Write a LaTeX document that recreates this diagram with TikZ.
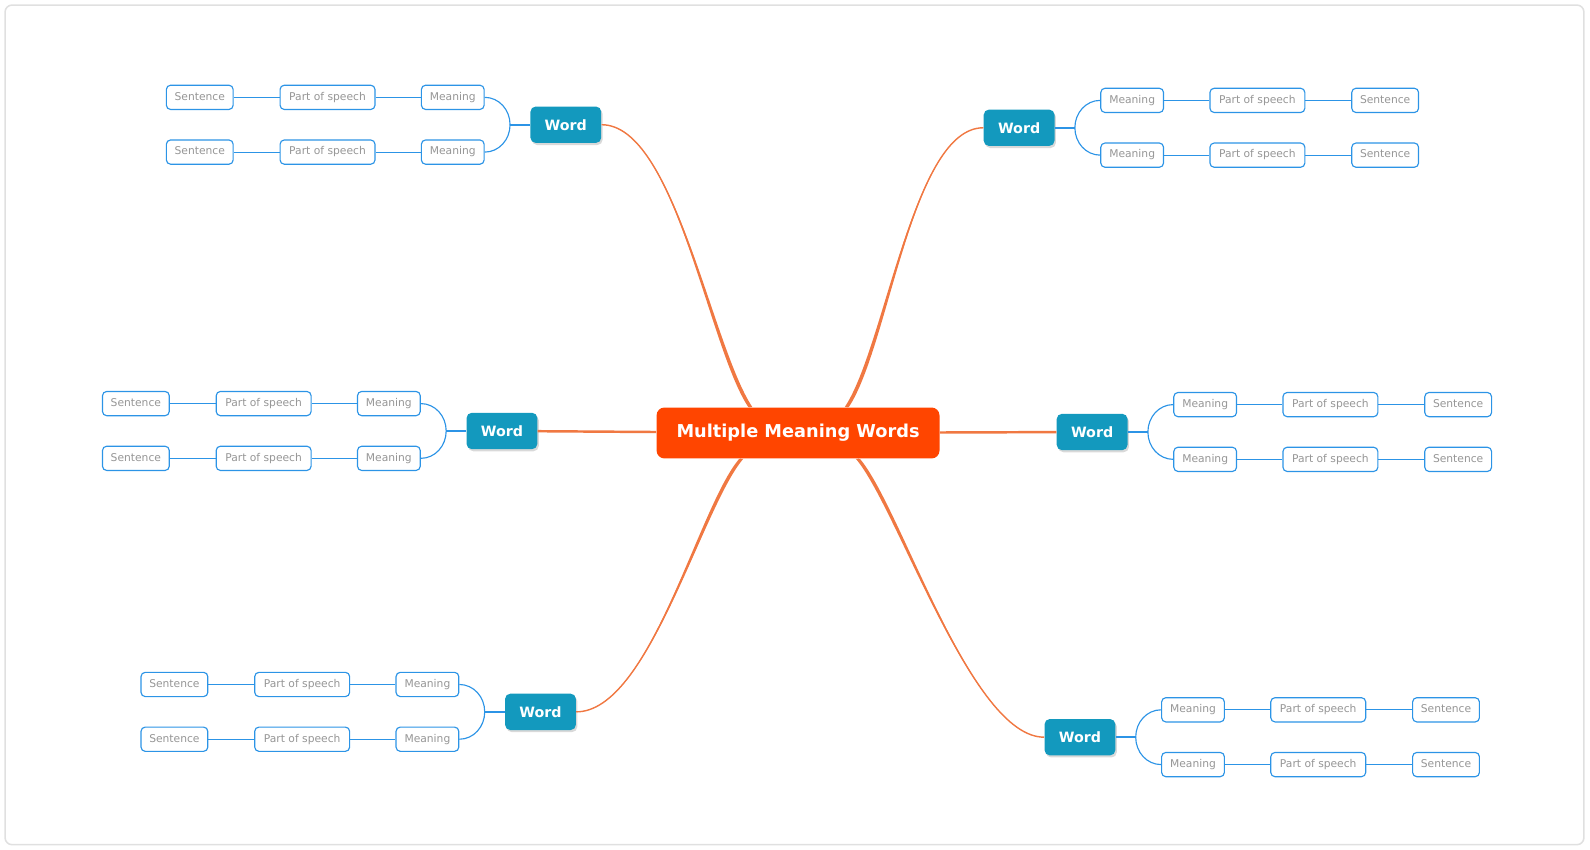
\documentclass[tikz,border=0pt]{standalone}
\usepackage{fontspec}
\setmainfont{DejaVu Sans}
\usepackage{tikz}
\usetikzlibrary{shadows}
\usetikzlibrary{positioning}
\usetikzlibrary{calc}
\definecolor{rootred}{RGB}{255,69,0}
\definecolor{branchorange}{RGB}{240,120,66}
\definecolor{wordblue}{RGB}{19,153,190}
\definecolor{leafblue}{RGB}{44,148,230}
\definecolor{leafgray}{RGB}{150,150,150}
\definecolor{framegray}{RGB}{224,224,224}
\tikzstyle{rootnode}=[rectangle,rounded corners=4.5pt,fill=rootred,text=white,minimum width=161pt,minimum height=29pt,inner sep=0pt,font=\fontsize{10.1}{12}\selectfont\bfseries]
\tikzstyle{wordnode}=[rectangle,rounded corners=3pt,fill=wordblue,text=white,minimum width=40.3pt,minimum height=20.7pt,inner sep=0pt,font=\fontsize{8.1}{10}\selectfont\bfseries,drop shadow={opacity=0.3,shadow xshift=0.8pt,shadow yshift=-1.2pt}]
\tikzstyle{leaf}=[rectangle,rounded corners=2.4pt,draw=leafblue,line width=0.65pt,fill=white,text=leafgray,minimum height=13.8pt,inner sep=0pt,text height=4.4pt,text depth=1.2pt,font=\fontsize{6.1}{7}\selectfont]
\tikzstyle{branch}=[draw,branchorange,line width=0.8pt]
\tikzstyle{twig}=[draw,leafblue,line width=0.65pt]
\tikzstyle{stub}=[draw,leafblue,line width=1.1pt]

\begin{document}
\begin{tikzpicture}[x=0.02028cm,y=-0.02028cm]
    \useasboundingbox (0,0) rectangle (1568,838);
    % frame round the whole map
    \draw[framegray,line width=0.9pt,rounded corners=4pt] (5,5) rectangle (1562,833);

    % the central topic
    \node[rootnode] (root) at (787,427) {Multiple Meaning Words};

    % First we draw the words, then their meanings, parts of speech and sentences
    \foreach \px/\py/\side/\k/\near in {558/123/-1/1/east, 1005/126/1/2/west, 495/425/-1/3/east, 1077/426/1/4/west, 533/702/-1/5/east, 1065/727/1/6/west}{
        \node[wordnode] (W\k) at (\px,\py) {Word};
        \coordinate (J\k) at ({\px+55*\side},\py);
        \path[stub] (W\k) -- (J\k);
        \foreach \row/\dy in {a/-27, b/27}{
            \node[leaf,minimum width=35.7pt] (M\k\row) at ({\px+111.5*\side},{\py+\dy}) {Meaning};
            \node[leaf,minimum width=54pt] (P\k\row) at ({\px+235*\side},{\py+\dy}) {Part of speech};
            \node[leaf,minimum width=38pt] (S\k\row) at ({\px+361*\side},{\py+\dy}) {Sentence};
            \path[twig] (J\k) .. controls +(0,{0.55*\dy}) and +({-14*\side},0) .. (M\k\row.\near);
            \path[twig] (M\k\row) -- (P\k\row) -- (S\k\row);
        }
    }

    % Connect the central topic with the words
    \coordinate (r1) at ($(root.north)+(-47,0)$);
    \coordinate (r2) at ($(root.north)+(48,0)$);
    \coordinate (r5) at ($(root.south)+(-56,0)$);
    \coordinate (r6) at ($(root.south)+(59,0)$);
    \foreach \s/\e/\ax/\ay/\bx in {r1/W1.east/-40/-60/72, r2/W2.west/40/-60/-70, r5/W5.east/-41/48/72, r6/W6.west/41/48/-72}{
        \fill[branchorange] ($(\s)+(-2,0)$) .. controls +(\ax,\ay) and +(\bx,0) .. (\e) .. controls +(\bx,0) and +(\ax,\ay) .. ($(\s)+(2,0)$) -- cycle;
        \path[branch] (\s) .. controls +(\ax,\ay) and +(\bx,0) .. (\e);
    }
    \path[branch,line width=1.4pt] (root) -- (W3);
    \path[branch,line width=1.4pt] (root) -- (W4);
\end{tikzpicture}
\end{document}
